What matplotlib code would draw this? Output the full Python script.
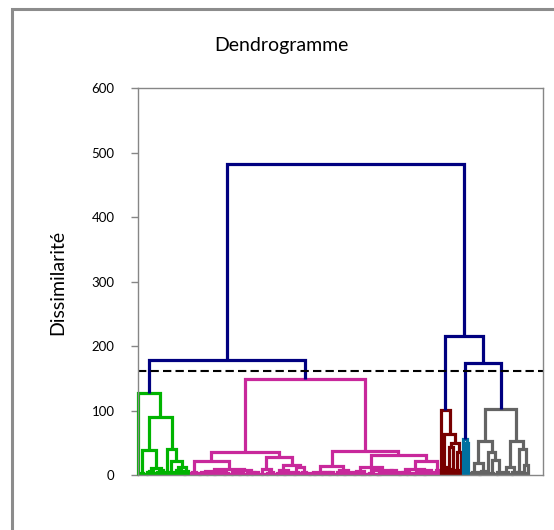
import numpy as np
import matplotlib.pyplot as plt
from matplotlib.patches import Rectangle

# Tree notation: 0 = single leaf, list = small chained bush (merge heights),
# tuple = (merge height, left subtree, right subtree)
green = (127, 0,
         (90,
          (39, [3], (11, [2, 4, 6], [3, 5, 7])),
          (41, [5], (22, 0, (12, [3, 5, 8], [2, 6])))))

magenta_left = (36,
                (22, [3, 5],
                 (9,
                  (6, (4, [2, 3], [2, 3]), (5, [2, 3, 4], [2, 3])),
                  (7, (5, [2, 4], [2, 3]), (4, [2], [2, 3, 4])))),
                (28,
                 (10, [2], [2, 3, 4]),
                 (16, (8, [2, 3], [2, 3, 4]), (12, [2, 4], [3, 5]))))
magenta_right = (37,
                 (14,
                  (5, (3, [2], [2, 3]), (4, [2, 3], [2, 4])),
                  (7, [2, 4], [2, 3, 5])),
                 (31,
                  (13,
                   (6, [2, 4], [3, 2]),
                   (8, [2, 3], [2, 2, 3, 4, 4, 5, 6, 7])),
                  (22,
                   (9, (5, [2, 4], [2, 3]), (7, [2, 3, 4], [2, 3, 4, 5])),
                   [7])))
magenta = (149, magenta_left, magenta_right)

dark_red = (101, 0, (64, [12], (50, [10, 44], [8, 36])))
blue = (56, 0, [50])
gray = (102,
        (52, (18, [3, 5], [2, 4, 6]), (36, 0, (24, [3], [2, 5]))),
        (53, (12, [3, 5], [2, 4]), (40, [5], [3, 15])))

left_join = 178
right_sub_join = 174
right_join = 215
top_join = 482
cut_level = 161

cluster_colors = ['#00B400', '#C8289B', '#780000', '#0070A0', '#646464']
link_color = '#000080'

leaf_pos = [0]
segments = []


def next_leaf():
    x = leaf_pos[0]
    leaf_pos[0] += 1
    return x


def add_link(xl, hl, xr, hr, h, color):
    segments.append(([xl, xl, xr, xr], [hl, h, h, hr], color))


def layout(node, color):
    if isinstance(node, int):
        return next_leaf(), 0
    if isinstance(node, list):
        x, hx = next_leaf(), 0
        for hh in node:
            x2 = next_leaf()
            add_link(x, hx, x2, 0, hh, color)
            x, hx = (x + x2) / 2, hh
        return x, hx
    h, left, right = node
    xl, hl = layout(left, color)
    xr, hr = layout(right, color)
    add_link(xl, hl, xr, hr, h, color)
    return (xl + xr) / 2, h


pos = [layout(t, c) for t, c in zip([green, magenta, dark_red, blue, gray], cluster_colors)]

# upper links
xg, hg = pos[0]
xm, hm = pos[1]
add_link(xg, hg, xm, hm, left_join, link_color)
xa = (xg + xm) / 2
xb, hb = pos[3]
xy, hy = pos[4]
add_link(xb, hb, xy, hy, right_sub_join, link_color)
xr, hr = pos[2]
add_link(xr, hr, (xb + xy) / 2, right_sub_join, right_join, link_color)
add_link(xa, left_join, (xr + (xb + xy) / 2) / 2, right_join, top_join, link_color)

plt.rcParams['font.family'] = ['Lato', 'DejaVu Sans']
fig = plt.figure(figsize=(5.54, 5.30), dpi=100)
ax = fig.add_axes([138 / 554, 1 - 475 / 530, 405 / 554, 387 / 530])

for xs, ys, c in segments:
    ax.plot(xs, ys, color=c, lw=2.3, solid_capstyle='butt', solid_joinstyle='miter', clip_on=False)

ax.axhline(cut_level, color='black', lw=1.5, ls=(0, (4, 2)))

ax.set_xlim(0, 162)
ax.set_ylim(0, 600)
ax.set_yticks(range(0, 601, 100))
ax.set_xticks([])
ax.tick_params(axis='y', direction='out', length=5, width=1, color='#868686', pad=12, labelsize=9.5)
for s in ax.spines.values():
    s.set_color('#868686')
    s.set_linewidth(1)

fig.text(281 / 554, 1 - 45 / 530, 'Dendrogramme', ha='center', va='center', fontsize=14)
fig.text(58 / 554, 1 - 282 / 530, 'Dissimilarité', ha='center', va='center', rotation=90, fontsize=14)

fig.add_artist(Rectangle((11.5 / 554, -0.1), 1.2, 1.1 - 8.5 / 530, transform=fig.transFigure,
                         fill=False, edgecolor='#8c8c8c', lw=2.2, clip_on=False))

fig.savefig('out.png', dpi=100)
